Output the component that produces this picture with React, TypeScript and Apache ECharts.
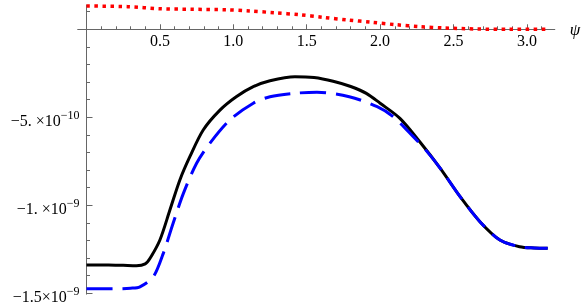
import React, { useEffect, useRef } from "react";
import * as echarts from "echarts";

// values in units of 1e-10
const blackPsi = [0, 0.15, 0.25, 0.34, 0.4, 0.433, 0.5, 0.568, 0.636, 0.704, 0.795, 0.909, 1.02, 1.136, 1.25, 1.42, 1.55, 1.68, 1.8, 1.906, 2.0, 2.135, 2.27, 2.41, 2.545, 2.68, 2.816, 2.95, 3.05, 3.1416];
const blackVal = [-13.39, -13.39, -13.41, -13.43, -13.33, -13.01, -11.97, -10.27, -8.56, -7.24, -5.72, -4.59, -3.83, -3.26, -2.92, -2.69, -2.74, -2.95, -3.25, -3.64, -4.2, -5.06, -6.39, -7.9, -9.51, -10.93, -11.97, -12.35, -12.42, -12.44];

const bluePsi = [0, 0.2, 0.3, 0.364, 0.455, 0.523, 0.59, 0.66, 0.75, 0.84, 0.977, 1.136, 1.25, 1.41, 1.57, 1.79, 1.98, 2.09, 2.226, 2.32, 2.41, 2.545, 2.68, 2.816, 2.95, 3.05, 3.1416];
const blueVal = [-14.74, -14.74, -14.71, -14.63, -14.06, -12.73, -11.02, -9.32, -7.61, -6.48, -5.15, -4.2, -3.83, -3.64, -3.58, -3.83, -4.4, -4.97, -6.1, -6.95, -7.9, -9.51, -10.93, -11.97, -12.35, -12.42, -12.44];

const redPsi = [0, 0.28, 0.5, 0.72, 0.95, 1.11, 1.28, 1.45, 1.61, 1.78, 1.94, 2.11, 2.27, 2.44, 2.66, 2.88, 3.1416];
const redVal = [1.324, 1.286, 1.17, 1.136, 1.11, 1.04, 0.94, 0.83, 0.68, 0.53, 0.4, 0.26, 0.15, 0.074, 0.017, 0, 0];

const xMinorTicks = [0.1, 0.2, 0.3, 0.4, 0.5, 0.6, 0.7, 0.8, 0.9, 1.0, 1.1, 1.2, 1.3, 1.4, 1.5, 1.6, 1.7, 1.8, 1.9, 2.0, 2.1, 2.2, 2.3, 2.4, 2.5, 2.6, 2.7, 2.8, 2.9, 3.0, 3.1];
const xMajorTicks = [0.5, 1.0, 1.5, 2.0, 2.5, 3.0];
const xTickLabels = ["0.5", "1.0", "1.5", "2.0", "2.5", "3.0"];

const yMinorTicks = [-15, -14, -13, -12, -11, -10, -9, -8, -7, -6, -5, -4, -3, -2, -1, 1];
const yMajorTicks = [-15, -10, -5];
const yLabelBase = ["\u22121.5\u00d710", "\u22121. \u00d710", "\u22125. \u00d710"];
const yLabelExp = ["\u22129", "\u22129", "\u221210"];

const FONT = "Liberation Serif";
const AXIS_COLOR = "#666";

const X_MIN = -0.06;
const X_MAX = 3.19;
const Y_MIN = -15.05;
const Y_MAX = 1.38;

function pairs(xs: number[], ys: number[]) {
  return xs.map((x, i) => [x, ys[i]]);
}

export default function App() {
  const ref = useRef<HTMLDivElement>(null);
  useEffect(() => {
    if (!ref.current) return;
    const chart = echarts.init(ref.current, undefined, { renderer: "svg" });
    const gridLeft = 77.7;
    const gridTop = 5;
    const gridW = 477.1;
    const gridH = 289.2;
    // place axes at the zero of the other axis through offsets
    const xOffset = -(gridH * (0 - Y_MIN)) / (Y_MAX - Y_MIN);
    const yOffset = -(gridW * (0 - X_MIN)) / (X_MAX - X_MIN);
    const xCommon = { type: "value", min: X_MIN, max: X_MAX, position: "bottom", offset: xOffset, splitLine: { show: false } };
    const yCommon = { type: "value", min: Y_MIN, max: Y_MAX, position: "left", offset: yOffset, splitLine: { show: false } };
    chart.setOption({
      animation: false,
      grid: { left: gridLeft, top: gridTop, width: gridW, height: gridH, outerBoundsMode: "none" },
      xAxis: [
        {
          ...xCommon,
          name: "\u03c8",
          nameLocation: "end",
          nameGap: 15,
          nameTextStyle: { fontFamily: FONT, fontStyle: "italic", fontSize: 17, color: "#000" },
          axisLine: { onZero: false, lineStyle: { color: AXIS_COLOR, width: 1 } },
          axisTick: { show: true, inside: true, length: 3, customValues: xMinorTicks, lineStyle: { color: AXIS_COLOR } },
          axisLabel: {
            show: true,
            customValues: xMajorTicks,
            margin: 3,
            fontFamily: FONT,
            fontSize: 16,
            color: "#000",
            formatter: (v: number) => {
              const i = xMajorTicks.findIndex((t) => Math.abs(t - v) < 1e-6);
              return i >= 0 ? xTickLabels[i] : "";
            },
          },
        },
        {
          ...xCommon,
          axisLine: { show: false, onZero: false },
          axisTick: { show: true, inside: true, length: 5, customValues: xMajorTicks, lineStyle: { color: AXIS_COLOR } },
          axisLabel: { show: false },
        },
      ],
      yAxis: [
        {
          ...yCommon,
          axisLine: { show: true, onZero: false, lineStyle: { color: AXIS_COLOR, width: 1 } },
          axisTick: { show: true, inside: true, length: 3.5, customValues: yMinorTicks, lineStyle: { color: AXIS_COLOR } },
          axisLabel: {
            show: true,
            customValues: yMajorTicks,
            margin: 7,
            padding: [6, 0, 0, 0],
            color: "#000",
            formatter: (v: number) => {
              const i = yMajorTicks.findIndex((t) => Math.abs(t - v) < 1e-6);
              return i >= 0 ? `{a|${yLabelBase[i]}}{b|${yLabelExp[i]}}` : "";
            },
            rich: {
              a: { fontFamily: FONT, fontSize: 16, lineHeight: 22, color: "#000" },
              b: { fontFamily: FONT, fontSize: 12, lineHeight: 2, verticalAlign: "top", color: "#000" },
            },
          },
        },
        {
          ...yCommon,
          axisLine: { show: false, onZero: false },
          axisTick: { show: true, inside: true, length: 6, customValues: yMajorTicks, lineStyle: { color: AXIS_COLOR } },
          axisLabel: { show: false },
        },
      ],
      series: [
        {
          type: "line",
          data: pairs(redPsi, redVal),
          smooth: 0.3,
          showSymbol: false,
          lineStyle: { color: "#ff0000", width: 3.5, type: [3.5, 4.5], cap: "butt" },
          z: 2,
        },
        {
          type: "line",
          data: pairs(blackPsi, blackVal),
          smooth: 0.3,
          showSymbol: false,
          lineStyle: { color: "#000000", width: 3 },
          z: 3,
        },
        {
          type: "line",
          data: pairs(bluePsi, blueVal),
          smooth: 0.3,
          showSymbol: false,
          lineStyle: { color: "#0000ff", width: 3, type: [26, 10], cap: "butt" },
          z: 4,
        },
      ],
    });
    return () => chart.dispose();
  }, []);
  return <div ref={ref} style={{ position: "fixed", left: 0, top: 0, width: 581, height: 305 }} />;
}
